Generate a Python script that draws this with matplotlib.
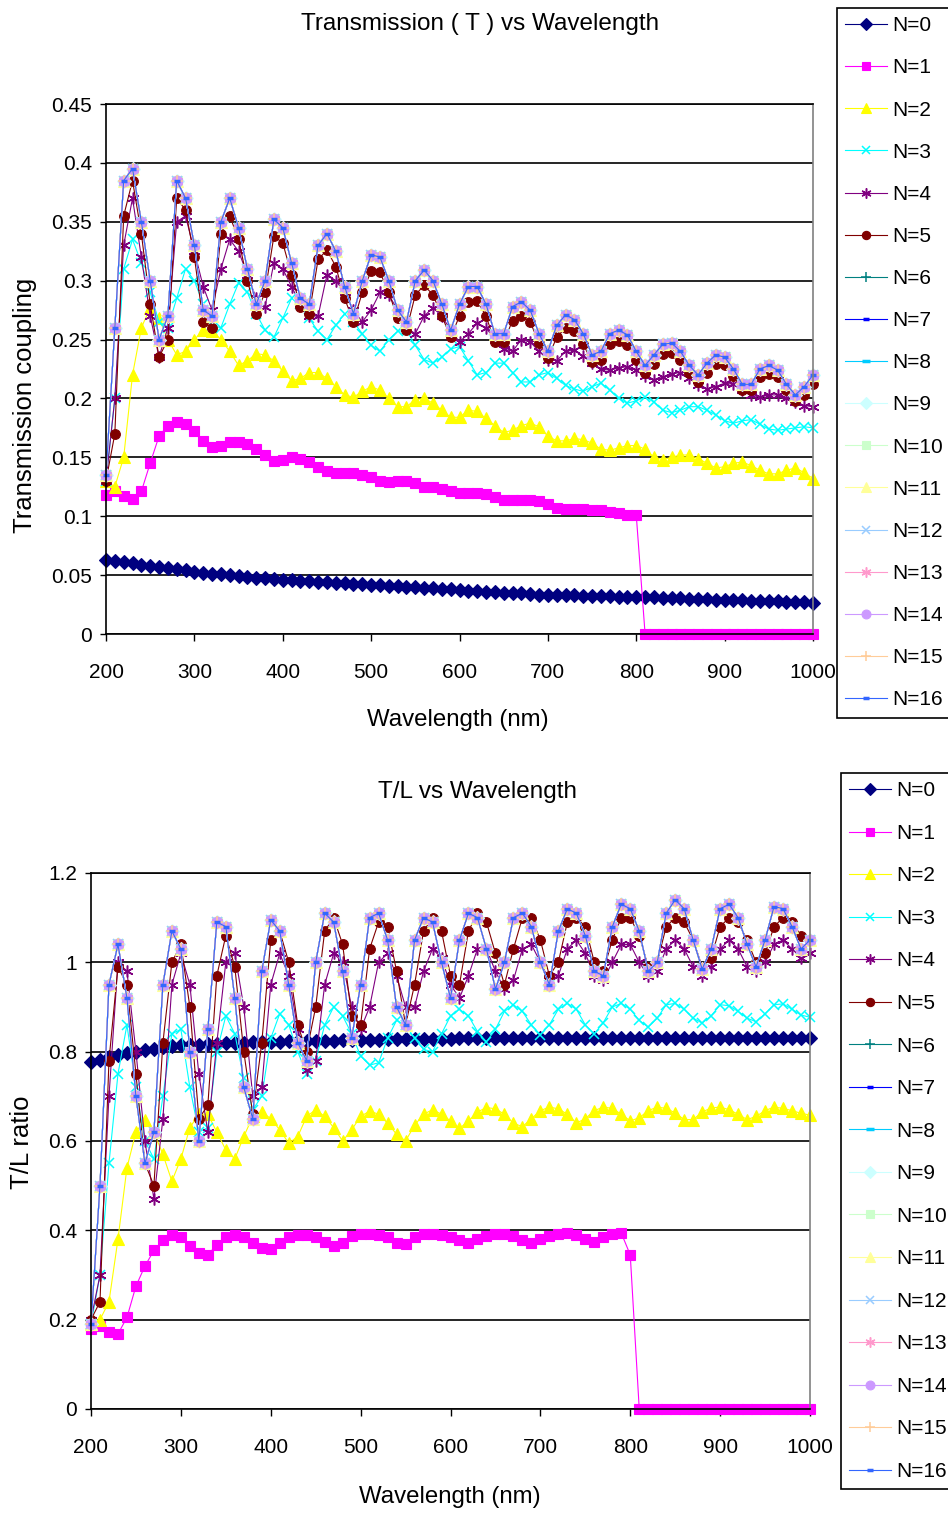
import matplotlib
matplotlib.use("Agg")
import matplotlib.pyplot as plt
import numpy as np

plt.rcParams['font.family'] = ['Liberation Sans', 'DejaVu Sans']

# ---------------- data ----------------
wavelength = list(range(200, 1001, 10))
series_names = ["N=%d" % i for i in range(17)]

# Transmission (T)
T_N0 = [.063, .062, .061, .060, .059, .058, .057, .056, .055, .054,
        .053, .052, .0513, .0506, .0499, .0492, .0485, .0479, .0473, .0467,
        .046, .0455, .045, .0446, .0442, .0438, .0434, .043, .0426, .0421,
        .0416, .0412, .0408, .0404, .040, .0396, .0392, .0388, .0384, .0378,
        .0372, .0368, .0364, .036, .0356, .0352, .0348, .0344, .034, .0335,
        .033, .0329, .0328, .0327, .0326, .0324, .0322, .032, .0318, .0316,
        .0315, .0313, .0311, .0308, .0305, .0302, .030, .0297, .0295, .0292,
        .029, .0288, .0286, .0284, .0282, .028, .0277, .0274, .0271, .0268,
        .0265]
T_N1 = [.118, .121, .117, .115, .121, .145, .168, .177, .18, .178,
        .172, .164, .159, .16, .163, .163, .161, .157, .152, .147,
        .148, .15, .149, .146, .142, .138, .137, .137, .137, .135,
        .133, .13, .129, .13, .13, .128, .125, .125, .123, .121,
        .12, .12, .12, .119, .116, .114, .114, .114, .114, .113,
        .11, .107, .106, .106, .106, .105, .105, .104, .103, .101,
        .101, 0, 0, 0, 0, 0, 0, 0, 0, 0,
        0, 0, 0, 0, 0, 0, 0, 0, 0, 0,
        0]
T_N2 = [.13, .125, .15, .22, .26, .277, .268, .25, .237, .24,
        .25, .258, .257, .25, .24, .228, .232, .238, .237, .232,
        .223, .215, .217, .222, .222, .217, .21, .203, .201, .206,
        .21, .207, .2, .193, .193, .199, .2, .196, .19, .184,
        .184, .19, .189, .183, .177, .171, .173, .177, .179, .176,
        .168, .164, .164, .166, .165, .162, .157, .156, .158, .16,
        .16, .157, .15, .148, .15, .152, .152, .149, .145, .141,
        .142, .145, .146, .143, .139, .136, .136, .139, .141, .137,
        .132]
T_N3 = [.13, .2, .31, .335, .315, .29, .265, .26, .285, .31,
        .3, .28, .262, .26, .28, .298, .29, .272, .258, .252,
        .268, .285, .28, .268, .257, .25, .262, .272, .265, .255,
        .245, .24, .25, .257, .258, .245, .233, .23, .235, .242,
        .244, .232, .22, .222, .23, .23, .222, .214, .214, .22,
        .222, .217, .211, .208, .206, .21, .213, .207, .2, .196,
        .198, .201, .197, .19, .188, .19, .193, .193, .19, .186,
        .181, .179, .181, .182, .178, .174, .173, .174, .175, .176,
        .175]
T_N4 = [.13, .2, .33, .37, .32, .27, .235, .26, .35, .355,
        .325, .295, .275, .31, .335, .325, .305, .285, .278, .315,
        .31, .295, .28, .27, .27, .305, .3, .29, .275, .265,
        .275, .29, .288, .275, .26, .255, .27, .277, .27, .258,
        .248, .255, .264, .26, .25, .242, .24, .25, .248, .24,
        .233, .232, .24, .241, .236, .23, .225, .224, .226, .227,
        .224, .219, .216, .218, .221, .222, .217, .211, .208, .21,
        .213, .212, .207, .203, .201, .203, .203, .2, .197, .194,
        .193]
T_N5 = [.13, .17, .355, .385, .34, .28, .235, .25, .37, .36,
        .32, .265, .26, .34, .355, .335, .3, .272, .29, .338,
        .332, .305, .278, .272, .318, .326, .312, .285, .265, .29,
        .308, .307, .29, .268, .258, .288, .296, .288, .27, .252,
        .27, .282, .283, .27, .248, .248, .266, .27, .265, .247,
        .234, .252, .26, .257, .246, .231, .233, .246, .249, .245,
        .233, .222, .229, .238, .239, .233, .222, .214, .222, .229,
        .228, .219, .207, .207, .218, .221, .218, .207, .198, .203,
        .212]
# N=6 ... N=16 lie on top of each other
T_upper = [.135, .26, .385, .395, .35, .3, .25, .27, .385, .37,
           .33, .275, .27, .35, .37, .345, .31, .28, .3, .352,
           .345, .315, .285, .28, .33, .34, .325, .295, .272, .3,
           .322, .32, .3, .275, .265, .3, .309, .3, .28, .258,
           .28, .295, .295, .28, .255, .255, .278, .282, .275, .255,
           .24, .262, .271, .267, .255, .237, .24, .255, .258, .254,
           .24, .228, .237, .246, .247, .24, .228, .22, .23, .237,
           .235, .225, .212, .212, .225, .228, .224, .212, .203, .21,
           .22]

# T/L ratio
R_N0 = [.777, .782, .787, .792, .796, .80, .804, .807, .81, .812,
        .814, .815, .816, .817, .818, .819, .82, .82, .821, .821,
        .822, .822, .823, .823, .824, .824, .825, .825, .826, .826,
        .826, .827, .827, .828, .828, .828, .829, .829, .829, .829,
        .829, .83, .83, .83, .83, .83, .83, .83, .83, .83,
        .83, .83, .83, .83, .83, .83, .83, .83, .83, .83,
        .83, .83, .83, .83, .83, .83, .83, .83, .83, .83,
        .83, .83, .83, .83, .83, .83, .83, .83, .83, .83,
        .83]
R_N1 = [.18, .185, .172, .168, .205, .275, .32, .355, .378, .39,
        .385, .365, .35, .345, .368, .385, .39, .385, .372, .36,
        .358, .372, .385, .39, .39, .385, .375, .365, .372, .387,
        .392, .392, .39, .385, .372, .37, .385, .392, .392, .39,
        .385, .378, .372, .38, .388, .392, .392, .388, .378, .372,
        .38, .388, .392, .393, .39, .38, .374, .385, .392, .394,
        .345, 0, 0, 0, 0, 0, 0, 0, 0, 0,
        0, 0, 0, 0, 0, 0, 0, 0, 0, 0,
        0]
R_N2 = [.19, .2, .24, .38, .54, .62, .648, .62, .57, .51,
        .56, .63, .66, .66, .62, .58, .56, .61, .655, .665,
        .65, .625, .595, .61, .655, .67, .655, .63, .6, .625,
        .655, .667, .66, .64, .615, .6, .635, .66, .67, .66,
        .645, .628, .645, .665, .675, .672, .66, .64, .632, .65,
        .668, .676, .672, .66, .64, .65, .668, .676, .673, .66,
        .645, .652, .668, .676, .673, .663, .648, .648, .665, .674,
        .676, .67, .66, .648, .655, .668, .676, .673, .668, .662,
        .658]
R_N3 = [.19, .3, .55, .75, .86, .72, .6, .56, .7, .84,
        .85, .72, .62, .63, .8, .88, .84, .74, .67, .7,
        .83, .885, .86, .8, .75, .78, .86, .9, .88, .84,
        .79, .77, .775, .83, .87, .86, .83, .805, .8, .84,
        .88, .895, .88, .845, .822, .85, .89, .905, .89, .86,
        .838, .86, .895, .908, .895, .86, .84, .865, .9, .908,
        .895, .87, .855, .875, .905, .908, .895, .875, .864, .88,
        .905, .903, .89, .875, .867, .885, .905, .907, .895, .882,
        .877]
R_N4 = [.2, .3, .7, 1.0, .98, .8, .6, .47, .65, .95,
        1.02, .95, .75, .62, .82, 1.0, 1.02, .9, .7, .72,
        .95, 1.02, .97, .85, .76, .78, .95, 1.02, 1.0, .9,
        .85, .9, 1.0, 1.02, .97, .9, .9, .98, 1.03, 1.01,
        .95, .92, .97, 1.03, 1.03, .98, .94, .96, 1.03, 1.04,
        1.0, .96, .97, 1.03, 1.05, 1.02, .97, .96, 1.0, 1.04,
        1.04, 1.0, .97, .98, 1.03, 1.05, 1.03, .99, .97, .99,
        1.03, 1.05, 1.03, .99, .98, 1.0, 1.04, 1.05, 1.03, 1.01,
        1.02]
R_N5 = [.2, .24, .78, .99, .95, .75, .55, .5, .82, 1.0,
        1.04, .9, .65, .68, .97, 1.06, .99, .8, .66, .82,
        1.05, 1.07, 1.0, .86, .8, .9, 1.07, 1.1, 1.04, .88,
        .86, 1.03, 1.09, 1.08, .98, .86, .95, 1.07, 1.1, 1.07,
        .97, .95, 1.07, 1.11, 1.09, 1.02, .95, 1.03, 1.1, 1.1,
        1.05, .97, 1.0, 1.09, 1.1, 1.08, 1.0, .98, 1.05, 1.1,
        1.1, 1.06, .99, 1.0, 1.08, 1.1, 1.09, 1.05, .99, 1.01,
        1.08, 1.1, 1.09, 1.05, 1.0, 1.02, 1.08, 1.1, 1.09, 1.06,
        1.05]
R_upper = [.19, .5, .95, 1.04, .92, .7, .55, .62, .95, 1.07,
           1.03, .8, .6, .85, 1.09, 1.08, .92, .72, .65, .98,
           1.095, 1.07, .95, .82, .78, 1.0, 1.11, 1.09, .98, .83,
           .95, 1.1, 1.11, 1.05, .9, .86, 1.05, 1.1, 1.09, 1.0,
           .92, 1.05, 1.11, 1.1, 1.03, .94, 1.0, 1.1, 1.11, 1.08,
           1.0, .95, 1.07, 1.12, 1.11, 1.06, .98, .97, 1.08, 1.13,
           1.12, 1.07, .98, 1.0, 1.11, 1.14, 1.12, 1.05, .985, 1.03,
           1.12, 1.13, 1.1, 1.04, .99, 1.05, 1.125, 1.12, 1.08, 1.03,
           1.05]

T_series = [T_N0, T_N1, T_N2, T_N3, T_N4, T_N5] + [T_upper] * 11
R_series = [R_N0, R_N1, R_N2, R_N3, R_N4, R_N5] + [R_upper] * 11

T_yticks = [0, 0.05, 0.1, 0.15, 0.2, 0.25, 0.3, 0.35, 0.4, 0.45]
R_yticks = [0, 0.2, 0.4, 0.6, 0.8, 1.0, 1.2]
x_ticks = [200, 300, 400, 500, 600, 700, 800, 900, 1000]

# ---------------- styles (Excel default series look) ----------------
ASTER = (6, 2, 0)
styles = [
    dict(color='#000080', marker='D', ms=7),
    dict(color='#FF00FF', marker='s', ms=7.5),
    dict(color='#FFFF00', marker='^', ms=8.5),
    dict(color='#00FFFF', marker='x', ms=7.5, mew=1.1),
    dict(color='#800080', marker=ASTER, ms=8.5, mew=1.1),
    dict(color='#800000', marker='o', ms=7),
    dict(color='#008080', marker='+', ms=8, mew=1.1),
    dict(color='#0000FF', marker='_', ms=4.5, mew=2.5),
    dict(color='#00CCFF', marker='_', ms=6, mew=2.5),
    dict(color='#CCFFFF', marker='D', ms=7),
    dict(color='#CCFFCC', marker='s', ms=7.5),
    dict(color='#FFFF99', marker='^', ms=8.5),
    dict(color='#99CCFF', marker='x', ms=7.5, mew=1.1),
    dict(color='#FF99CC', marker=ASTER, ms=8.5, mew=1.1),
    dict(color='#CC99FF', marker='o', ms=7.5),
    dict(color='#FFCC99', marker='+', ms=8, mew=1.1),
    dict(color='#3366FF', marker='_', ms=5, mew=2.5),
]

W, H = 948, 1513
fig = plt.figure(figsize=(W / 100, H / 100), dpi=100)

def px_axes(l, t, r, b):
    return fig.add_axes([l / W, 1 - b / H, (r - l) / W, (b - t) / H])

ax1 = px_axes(106, 104, 813, 634)
ax2 = px_axes(91, 873, 810, 1409)

def draw(ax, series, yticks):
    handles = []
    for name, ys, st in zip(series_names, series, styles):
        st = dict(st)
        mew = st.pop('mew', 0.8)
        ln, = ax.plot(wavelength, ys, color=st['color'], lw=0.8,
                      marker=st['marker'], markersize=st['ms'],
                      markeredgewidth=mew, markeredgecolor=st['color'],
                      markerfacecolor=st['color'], clip_on=False, label=name)
        handles.append(ln)
    ax.set_xlim(200, 1000)
    ax.set_ylim(yticks[0], yticks[-1])
    ax.set_xticks(x_ticks)
    ax.set_yticks(yticks)
    ax.set_yticklabels(['%g' % v for v in yticks])
    ax.yaxis.grid(True, color='black', lw=1.2)
    ax.set_axisbelow(True)
    for s in ['left', 'bottom', 'top']:
        ax.spines[s].set_color('black')
        ax.spines[s].set_linewidth(1.2)
    ax.spines['right'].set_color('#808080')
    ax.spines['right'].set_linewidth(1.2)
    ax.tick_params(axis='x', direction='out', length=5, width=1, pad=16,
                   labelsize=15)
    ax.tick_params(axis='y', direction='out', length=4, width=1, pad=6,
                   labelsize=15)
    return handles

h1 = draw(ax1, T_series, T_yticks)
h2 = draw(ax2, R_series, R_yticks)

def ftext(x, y, s, **kw):
    fig.text(x / W, 1 - y / H, s, ha='center', va='center', **kw)

ftext(480, 24, "Transmission ( T ) vs Wavelength", fontsize=17.5)
ftext(478, 792, "T/L vs Wavelength", fontsize=17.5)
ftext(458, 720, "Wavelength (nm)", fontsize=17.3)
ftext(450, 1497, "Wavelength (nm)", fontsize=17.3)
ftext(25, 405, "Transmission coupling", fontsize=18.5, rotation=90)
ftext(22, 1142, "T/L ratio", fontsize=18.5, rotation=90)

def legend(handles, left, top, spacing):
    lg = fig.legend(handles, series_names, loc='upper left',
                    bbox_to_anchor=(left / W, 1 - top / H),
                    bbox_transform=fig.transFigure, frameon=True,
                    fancybox=False, edgecolor='black', framealpha=1,
                    fontsize=15, labelspacing=spacing, handlelength=2.0,
                    handletextpad=0.25, borderpad=0.4, borderaxespad=0,
                    numpoints=1, markerscale=0.85)
    lg.get_frame().set_linewidth(1.2)
    return lg

legend(h1, 837, 8, 1.11)
legend(h2, 841, 773, 1.13)

fig.savefig("out.png", dpi=100)
